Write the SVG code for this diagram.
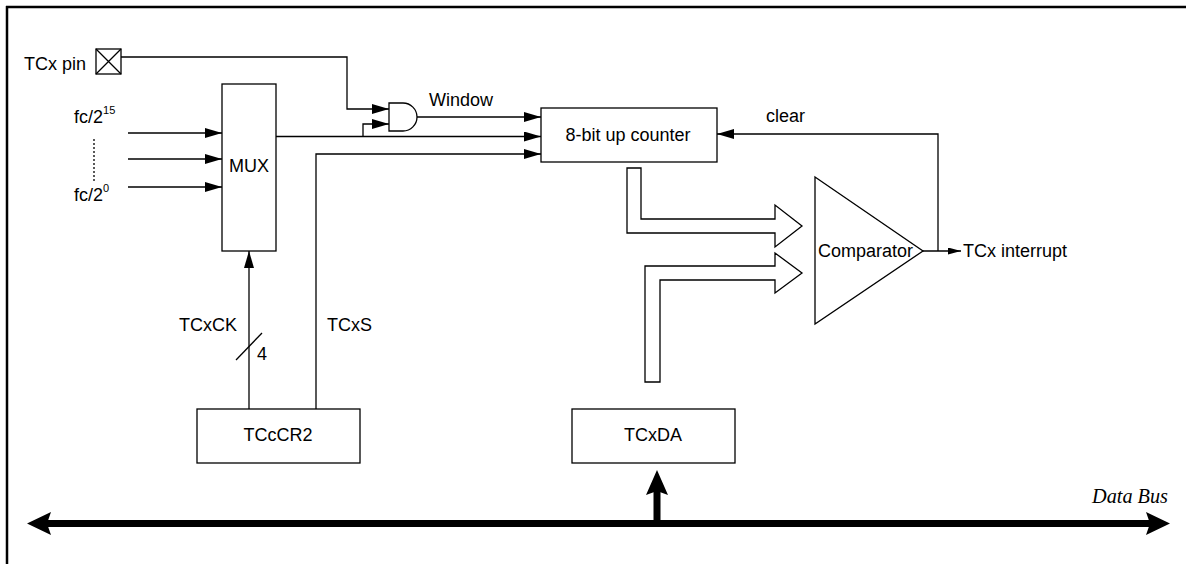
<svg xmlns="http://www.w3.org/2000/svg" width="1186" height="564" viewBox="0 0 1186 564">
<defs>
<marker id="ah" markerUnits="userSpaceOnUse" markerWidth="18" markerHeight="10" refX="17" refY="5" orient="auto"><path d="M0,0 L17,5 L0,10 Z" fill="#000"/></marker>
<marker id="ahs" markerUnits="userSpaceOnUse" markerWidth="14" markerHeight="8" refX="13" refY="3.5" orient="auto"><path d="M0,0 L13,3.5 L0,7 Z" fill="#000"/></marker>
<style>
.ln{fill:none;stroke:#000;stroke-width:1.3}
.bx{fill:#fff;stroke:#000;stroke-width:1.3}
.t{font-family:"Liberation Sans",Arial,sans-serif;font-size:18px;fill:#000}
.c{text-anchor:middle}
</style>
</defs>
<rect width="1186" height="564" fill="#fff"/>
<g id="frame"><path d="M6,7 H1186 M7,6 V564" fill="none" stroke="#000" stroke-width="2.5"/></g>
<g id="connectors">
<path class="ln" d="M121,57 H347 V109 H389" marker-end="url(#ah)"/>
<path class="ln" d="M276,136.5 H541" marker-end="url(#ah)"/>
<path class="ln" d="M363,136.5 V124 H389" marker-end="url(#ah)"/>
<path class="ln" d="M417,117 H541" marker-end="url(#ah)"/>
<path class="ln" d="M316,409 V154 H541" marker-end="url(#ah)"/>
<path class="ln" d="M249,409 V251" marker-end="url(#ah)"/>
<path class="ln" d="M236,360 L262,333"/>
<path class="ln" d="M128,133 H222" marker-end="url(#ah)"/>
<path class="ln" d="M128,159 H222" marker-end="url(#ah)"/>
<path class="ln" d="M128,187 H222" marker-end="url(#ah)"/>
<path class="ln" d="M94,139 V182" stroke-dasharray="2,2"/>
<path class="ln" d="M938,251 V134 H717" marker-end="url(#ah)"/>
<path class="ln" d="M923,251 H961" marker-end="url(#ahs)"/>
<path class="bx" d="M627,168 H641 V219 H775 V205 L802,226 L775,247 V233 H627 Z"/>
<path class="bx" d="M645,382 V266 H775 V253 L802,273 L775,293 V280 H660 V382 Z"/>
<g id="databus">
<path d="M44,523.5 H1154" stroke="#000" stroke-width="7" fill="none"/>
<path d="M27,523.5 L51,512 L47,523.5 L51,535 Z" fill="#000"/>
<path d="M1170,523.5 L1146,512 L1150,523.5 L1146,535 Z" fill="#000"/>
<path d="M657,523 V488" stroke="#000" stroke-width="7" fill="none"/>
<path d="M657,470 L668,495 L657,491 L646,495 Z" fill="#000"/>
</g>
</g>
<g id="pin">
<text class="t" x="24" y="70">TCx pin</text>
<rect class="bx" x="96" y="49" width="25" height="25"/>
<path class="ln" d="M96,49 L121,74 M121,49 L96,74"/>
</g>
<g id="inputs">
<text class="t" x="74" y="123">fc/2<tspan font-size="11" dy="-9">15</tspan></text>
<text class="t" x="74" y="201">fc/2<tspan font-size="11" dy="-9">0</tspan></text>
</g>
<g id="mux">
<rect class="bx" x="222" y="84" width="54" height="167"/>
<text class="t c" x="249" y="172" font-size="13">MUX</text>
</g>
<g id="and">
<path class="bx" d="M389,103 H403 A14,14 0 0 1 403,131 H389 Z"/>
<text class="t" x="429" y="106">Window</text>
</g>
<g id="counter">
<rect class="bx" x="541" y="108" width="176" height="54"/>
<text class="t c" x="628" y="141">8-bit up counter</text>
<text class="t" x="766" y="122">clear</text>
</g>
<g id="comparator">
<path class="bx" d="M815,177 L923,251 L815,324 Z"/>
<text class="t" x="818" y="257">Comparator</text>
<text class="t" x="963" y="257">TCx interrupt</text>
</g>
<g id="tccr2">
<rect class="bx" x="197" y="409" width="163" height="54"/>
<text class="t c" x="278" y="441">TCcCR2</text>
<text class="t" x="179" y="331">TCxCK</text>
<text class="t" x="257" y="360">4</text>
<text class="t" x="327" y="331">TCxS</text>
</g>
<g id="tcxda">
<rect class="bx" x="572" y="409" width="163" height="54"/>
<text class="t c" x="653" y="441">TCxDA</text>
</g>
<g id="buslabel">
<text x="1092" y="503" font-family="'Liberation Serif','Times New Roman',serif" font-style="italic" font-size="21" textLength="76" lengthAdjust="spacingAndGlyphs">Data Bus</text>
</g>
</svg>
